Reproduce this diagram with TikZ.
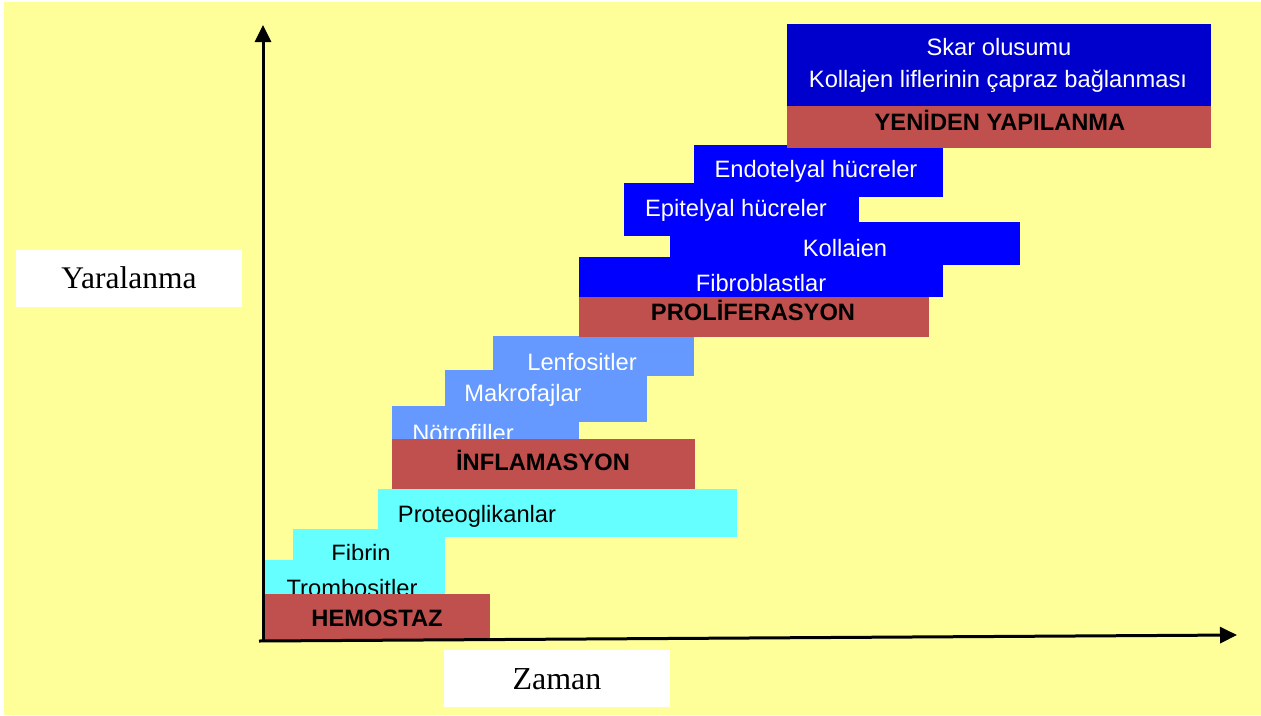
\documentclass[tikz,border=0pt]{standalone}
\usepackage{fontspec}
\setmainfont{Liberation Sans}
\newfontfamily\tmsfont{Liberation Serif}
\usetikzlibrary{fit,arrows.meta}
\definecolor{bgyellow}{HTML}{FFFF99}
\definecolor{phasered}{HTML}{C0504D}
\definecolor{cyanbox}{HTML}{66FFFF}
\definecolor{lightbluebox}{HTML}{6699FF}
\definecolor{bluebox}{HTML}{0000FF}
\definecolor{darkbluebox}{HTML}{0000CC}
\begin{document}
\begin{tikzpicture}[x=1pt,y=-1pt,
  box/.style={inner sep=0pt, outer sep=0pt, draw=none},
  redbox/.style={box, fill=phasered},
  cyanb/.style={box, fill=cyanbox},
  lblueb/.style={box, fill=lightbluebox},
  blueb/.style={box, fill=bluebox},
  lbl/.style={font=\fontsize{23.7}{28}\selectfont, anchor=base, inner sep=0pt},
  wlbl/.style={lbl, text=white},
  phaselbl/.style={lbl, font=\fontsize{23.7}{28}\selectfont\bfseries},
  whitebox/.style={fill=white, draw=none, inner sep=0pt},
  serlbl/.style={font=\tmsfont\fontsize{31.5}{36}\selectfont, anchor=base, inner sep=0pt},
  axis/.style={line width=3pt, -{Triangle[width=16pt,length=17pt]}}
]
\useasboundingbox (0,0) rectangle (1261,715);
\fill[white] (0,0) rectangle (1261,715);
\fill[bgyellow] (4,2) rectangle (1261,715);

% white label boxes
\node[whitebox, fit={(16,250)(242,307)}] (ybox) {};
\node[serlbl] (ylabel) at (129,288) {Yaralanma};
\node[whitebox, fit={(444,650)(670,707)}] (zbox) {};
\node[serlbl, font=\tmsfont\fontsize{32}{36}\selectfont] (zlabel) at (557,689) {Zaman};

% remodelling
\node[box, fill=darkbluebox, fit={(787,24)(1211,106)}] (skar) {};
\node[wlbl] (skart1) at (999,55) {Skar olusumu};
\node[wlbl] (skart2) at (998,87) {Kollajen liflerinin çapraz bağlanması};

% proliferation
\node[blueb, fit={(694,145)(943,197)}] (endo) {};
\node[wlbl] (endot) at (816,177) {Endotelyal hücreler};
\node[blueb, fit={(624,183)(859,236)}] (epi) {};
\node[wlbl] (epit) at (736,216) {Epitelyal hücreler};
\node[blueb, fit={(670,222)(1020,265)}] (koll) {};
\node[wlbl] (kollt) at (845,256) {Kollajen};
\node[blueb, fit={(579,257)(943,297)}] (fibro) {};
\node[wlbl] (fibrot) at (761,291) {Fibroblastlar};

% inflammation
\node[lblueb, fit={(493,336)(694,376)}] (lenf) {};
\node[wlbl] (lenft) at (582,370) {Lenfositler};
\node[lblueb, fit={(445,370)(647,422)}] (makro) {};
\node[wlbl] (makrot) at (523,401) {Makrofajlar};
\node[lblueb, fit={(392,406)(579,439)}] (notro) {};
\node[wlbl] (notrot) at (463,441) {Nötrofiller};

% hemostasis
\node[cyanb, fit={(378,489)(737,537)}] (proteo) {};
\node[lbl] (proteot) at (477,522) {Proteoglikanlar};
\node[cyanb, fit={(293,529)(445,560)}] (fibrin) {};
\node[lbl] (fibrint) at (361,561) {Fibrin};
\node[cyanb, fit={(265,560)(445,594)}] (tromb) {};
\node[lbl] (trombt) at (352,596) {Trombositler};

% phase bars
\node[redbox, fit={(787,106)(1211,148)}] (yeniden) {};
\node[phaselbl] (yenident) at (1000,130) {YENİDEN YAPILANMA};
\node[redbox, fit={(579,297)(929,337)}] (prolif) {};
\node[phaselbl] (prolift) at (753,320) {PROLİFERASYON};
\node[redbox, fit={(392,439)(695,489)}] (inflam) {};
\node[phaselbl] (inflamt) at (543,470) {İNFLAMASYON};
\node[redbox, fit={(263,594)(490,640)}] (hemo) {};
\node[phaselbl] (hemot) at (377,626) {HEMOSTAZ};

% axes
\coordinate (ytip) at (263,25);
\coordinate (ybase) at (263,642);
\coordinate (xstart) at (259,641);
\coordinate (xtip) at (1237,635);
\draw[axis] (ybase) -- (ytip);
\draw[axis] (xstart) -- (xtip);
\end{tikzpicture}
\end{document}
